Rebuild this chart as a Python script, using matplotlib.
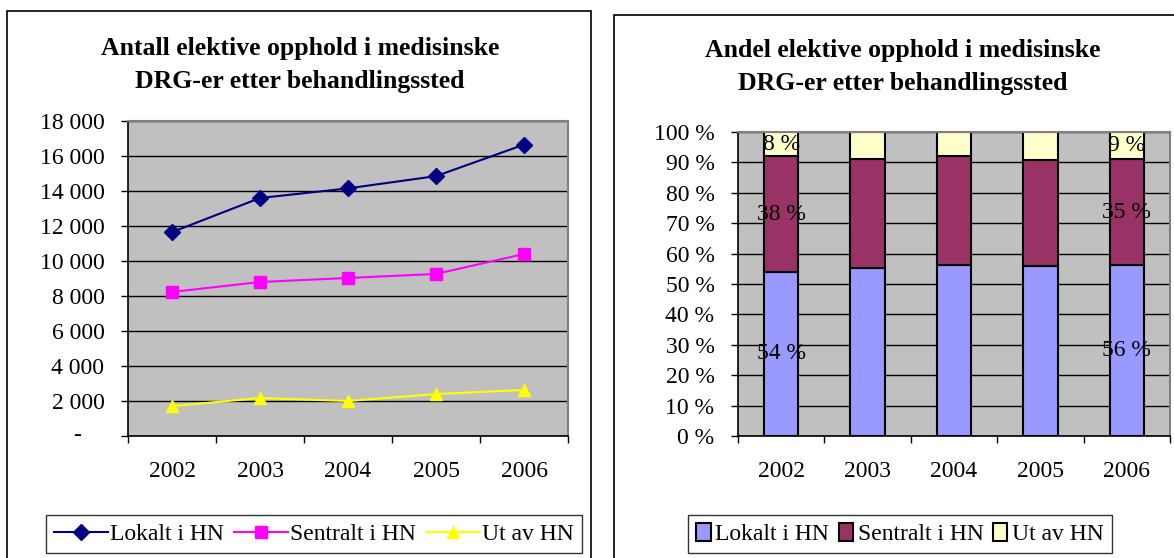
import numpy as np
import matplotlib
matplotlib.use("Agg")
import matplotlib.pyplot as plt
from matplotlib.patches import Rectangle

plt.rcParams["font.family"] = ["Liberation Serif", "DejaVu Serif"]

# data
years = ["2002", "2003", "2004", "2005", "2006"]
lokalt = [11650, 13600, 14150, 14850, 16650]
sentralt = [8230, 8800, 9030, 9260, 10400]
ut_av = [1710, 2170, 2000, 2400, 2630]
series_names = ["Lokalt i HN", "Sentralt i HN", "Ut av HN"]

W, H = 1174, 558
fig = plt.figure(figsize=(W / 100, H / 100), dpi=100)


def fx(px):
    return px / W


def fy(py):
    return 1 - py / H


# outer chart frames
fig.patches.append(Rectangle((fx(7), -0.02), fx(591 - 7), fy(11) + 0.02,
                             transform=fig.transFigure, fill=False,
                             edgecolor="black", lw=1.2))
fig.patches.append(Rectangle((fx(614), -0.02), fx(600), fy(15) + 0.02,
                             transform=fig.transFigure, fill=False,
                             edgecolor="black", lw=1.2))

fs = 17
x = np.arange(len(years))


def style_axes(ax):
    ax.set_facecolor("#C0C0C0")
    ax.set_xlim(-0.5, len(years) - 0.5)
    ax.set_xticks(np.arange(-0.5, len(years), 1.0))
    ax.set_xticklabels([])
    ax.set_xticks(x, minor=True)
    ax.set_xticklabels(years, minor=True, fontsize=fs)
    ax.tick_params(axis="x", which="major", direction="out", length=5, width=1)
    ax.tick_params(axis="x", which="minor", length=0, pad=18)
    ax.tick_params(axis="y", direction="out", length=5, width=1, pad=12,
                   labelsize=fs)
    ax.grid(axis="y", color="black", lw=1)
    ax.set_axisbelow(True)
    for s in ["top", "right"]:
        ax.spines[s].set_color("#808080")
        ax.spines[s].set_linewidth(1.5)
    for s in ["left", "bottom"]:
        ax.spines[s].set_color("black")
        ax.spines[s].set_linewidth(1.2)


# ---- venstre: antall ----
ax1 = fig.add_axes([fx(128), fy(436), fx(440), (436 - 121) / H])
l1, = ax1.plot(x, lokalt, color="#000080", marker="D", ms=8, lw=1.5)
l2, = ax1.plot(x, sentralt, color="#FF00FF", marker="s", ms=8, lw=1.5)
l3, = ax1.plot(x, ut_av, color="#FFFF00", marker="^", ms=9, lw=1.5)
ax1.set_ylim(0, 18000)
yt = np.arange(0, 18001, 2000)
ax1.set_yticks(yt)
ax1.set_yticklabels([""] + [f"{v:,}".replace(",", " ") for v in yt[1:]])
style_axes(ax1)
# null vises som strek, plassert som i regnskapsformat
ax1.text(-0.116, 0, "-", transform=ax1.get_yaxis_transform(),
         ha="center", va="center", fontsize=fs)

fig.text(fx(300), fy(65), "Antall elektive opphold i medisinske\nDRG-er etter behandlingssted",
         ha="center", va="center", fontsize=18.5, fontweight="bold", linespacing=1.55)

leg1 = fig.legend([l1, l2, l3], series_names, loc="center",
                  bbox_to_anchor=(fx(314), fy(534)), ncol=3, fontsize=fs,
                  frameon=True, fancybox=False, edgecolor="black",
                  handlelength=2.3, handletextpad=0.1, columnspacing=0.4,
                  borderpad=0.35)
leg1.get_frame().set_linewidth(1.0)

# ---- høyre: andel ----
tot = np.array(lokalt) + np.array(sentralt) + np.array(ut_av)
p_lok = np.array(lokalt) / tot * 100
p_sen = np.array(sentralt) / tot * 100
p_ut = np.array(ut_av) / tot * 100

ax2 = fig.add_axes([fx(738), fy(436), fx(432), (436 - 132) / H])
bw = 0.4
b1 = ax2.bar(x, p_lok, bw, color="#9999FF", edgecolor="black", lw=1.5)
b2 = ax2.bar(x, p_sen, bw, bottom=p_lok, color="#993366", edgecolor="black", lw=1.5)
b3 = ax2.bar(x, p_ut, bw, bottom=p_lok + p_sen, color="#FFFFCC", edgecolor="black", lw=1.5)
ax2.set_ylim(0, 100)
ax2.set_yticks(np.arange(0, 101, 10))
ax2.set_yticklabels([f"{v} %" for v in range(0, 101, 10)])
style_axes(ax2)

for i in [0, len(years) - 1]:
    ax2.text(x[i], p_lok[i] / 2, f"{p_lok[i]:.0f} %", ha="center", va="center", fontsize=fs)
    ax2.text(x[i], p_lok[i] + p_sen[i] / 2, f"{p_sen[i]:.0f} %", ha="center", va="center", fontsize=fs)
    ax2.text(x[i], p_lok[i] + p_sen[i] + p_ut[i] / 2, f"{p_ut[i]:.0f} %", ha="center", va="center", fontsize=fs)

fig.text(fx(903), fy(67), "Andel elektive opphold i medisinske\nDRG-er etter behandlingssted",
         ha="center", va="center", fontsize=18.5, fontweight="bold", linespacing=1.55)

leg2 = fig.legend([b1, b2, b3], series_names, loc="center",
                  bbox_to_anchor=(fx(900), fy(534)), ncol=3, fontsize=fs,
                  frameon=True, fancybox=False, edgecolor="black",
                  handlelength=0.6, handleheight=0.8, handletextpad=0.2,
                  columnspacing=0.4, borderpad=0.35)
leg2.get_frame().set_linewidth(1.0)

fig.savefig("out.png", dpi=100)
